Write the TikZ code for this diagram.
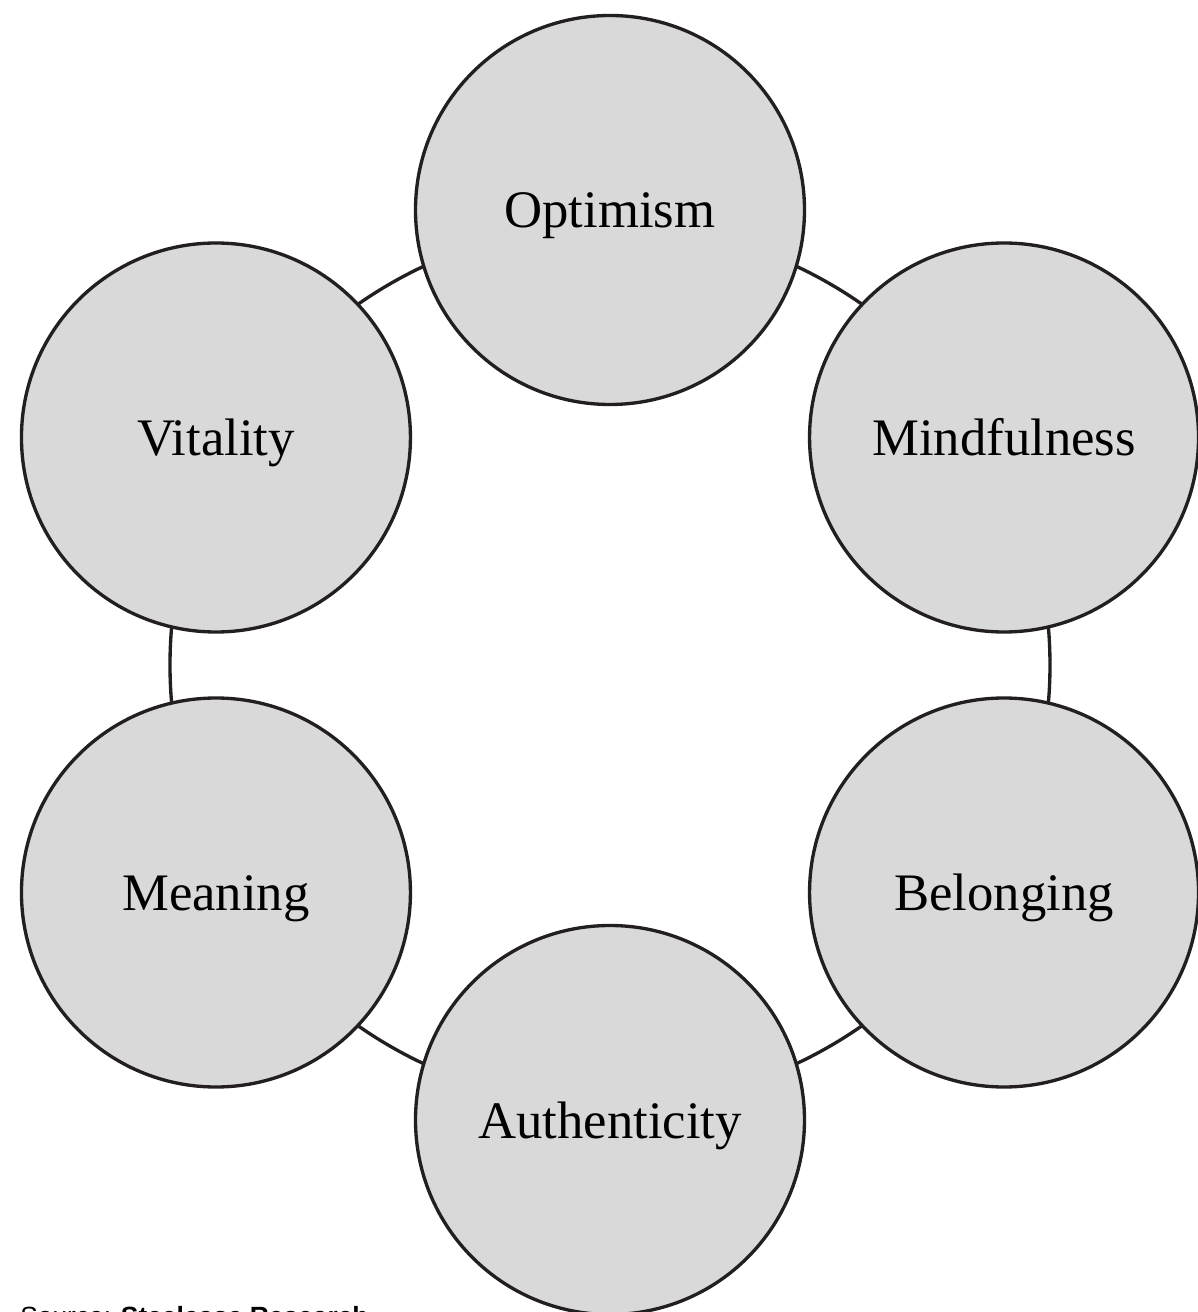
\documentclass[tikz,border=0pt]{standalone}
\usepackage{fontspec}
\setmainfont{Liberation Serif}
\newfontfamily\srcfont{Liberation Sans}
\usepackage{xcolor}
\usetikzlibrary{positioning,calc}
\definecolor{ringgray}{HTML}{D9D9D9}
\definecolor{ringline}{HTML}{231F20}

\begin{document}
\begin{tikzpicture}[
  value/.style={circle,draw=ringline,fill=ringgray,line width=1.9pt,minimum size=7.78cm,inner sep=0pt,
    text height=0.72cm,text depth=0pt,font=\fontsize{30}{36}\selectfont},
  ring/.style={draw=ringline,line width=1.9pt}]
  \useasboundingbox(-12.2,13.3)rectangle(11.76,-12.94);
  \coordinate(c) at (0,0);
  \draw[ring](c) circle (8.8);%ring behind the circles
  \foreach \ang/\name/\txt in {90/opt/Optimism,30/mind/Mindfulness,-30/bel/Belonging,-90/auth/Authenticity,-150/mean/Meaning,150/vit/Vitality}
    \node[value](\name) at (\ang:9.1){\txt};
  \node[anchor=base west,inner sep=0pt,font=\srcfont\fontsize{15}{18}\selectfont](src) at (-11.8,-13.2){Source: \textbf{Steelcase Research}};%source line
\end{tikzpicture}
\end{document}
